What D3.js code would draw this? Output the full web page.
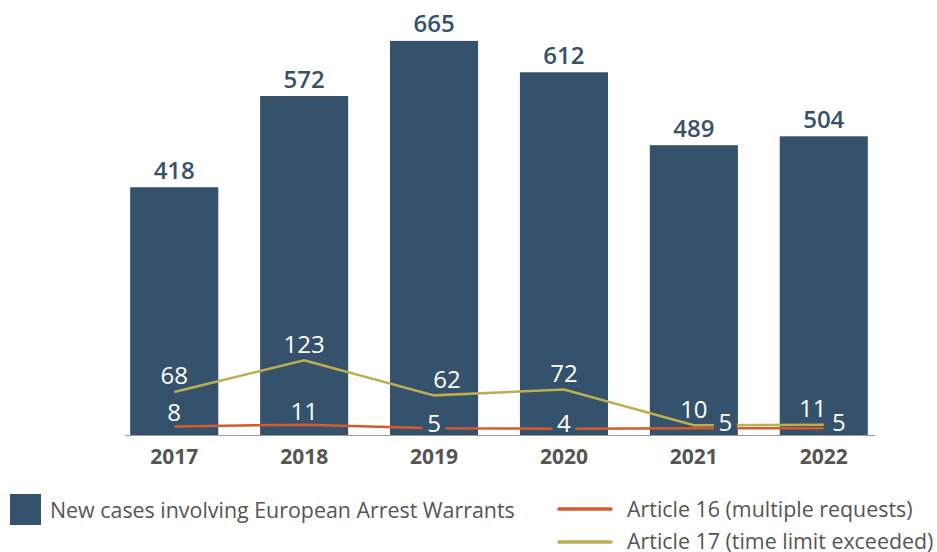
<!DOCTYPE html>
<html>
<head>
<meta charset="utf-8">
<script src="https://cdn.jsdelivr.net/npm/d3@7/dist/d3.min.js"></script>
<style>
  html, body { margin: 0; padding: 0; background: #ffffff; }
  svg { display: block; font-family: "Open Sans", "Noto Sans", sans-serif; }
</style>
</head>
<body>
<svg id="chart" width="937" height="552"></svg>
<script>
const years = ["2017", "2018", "2019", "2020", "2021", "2022"];
const newCases = [418, 572, 665, 612, 489, 504];
const article16 = [8, 11, 5, 4, 5, 5];
const article17 = [68, 123, 62, 72, 10, 11];
const seriesNames = [
  "New cases involving European Arrest Warrants",
  "Article 16 (multiple requests)",
  "Article 17 (time limit exceeded)"
];

const BAR = "#34526b", RED = "#d65a2b", GOLD = "#bfae50", TXT = "#555555";

const svg = d3.select("#chart");
const x = d3.scaleBand().domain(years).range([125, 873]).paddingInner(0.322).paddingOuter(0.04);
const y = d3.scaleLinear().domain([0, 734]).range([435, 0]);
const y2 = d3.scaleLinear().domain([0, 750]).range([431, 0]);
const cx = d => x(d) + x.bandwidth() / 2;

// bars
svg.append("g").selectAll("rect").data(years).join("rect")
  .attr("x", d => x(d)).attr("width", x.bandwidth())
  .attr("y", (d, i) => y(newCases[i]))
  .attr("height", (d, i) => y(0) - y(newCases[i]))
  .attr("fill", BAR);

// bar value labels
svg.append("g").selectAll("text").data(years).join("text")
  .attr("x", cx).attr("y", (d, i) => y(newCases[i]) - 8.5)
  .attr("text-anchor", "middle").attr("font-size", 24).attr("font-weight", 600)
  .attr("fill", BAR).text((d, i) => newCases[i]);

// axis line
svg.append("line").attr("x1", 125).attr("x2", 875).attr("y1", 435.5).attr("y2", 435.5)
  .attr("stroke", "#9a9a9a").attr("stroke-width", 1);

// year labels
svg.append("g").selectAll("text").data(years).join("text")
  .attr("x", cx).attr("y", 463.5).attr("text-anchor", "middle")
  .attr("font-size", 21).attr("font-weight", 700).attr("fill", TXT).text(d => d);

// lines
const line = vals => d3.line().x((d, i) => cx(years[i])).y(d => y2(d))(vals);
svg.append("path").attr("d", line(article17)).attr("fill", "none")
  .attr("stroke", GOLD).attr("stroke-width", 2.5);
svg.append("path").attr("d", line(article16)).attr("fill", "none")
  .attr("stroke", RED).attr("stroke-width", 2.5);

// Article 17 labels (above points)
const a17dx = [0, 0, 13, 0, 0, -11];
svg.append("g").selectAll("text").data(article17).join("text")
  .attr("x", (d, i) => cx(years[i]) + a17dx[i])
  .attr("y", d => y2(d) - 7.5)
  .attr("text-anchor", "middle").attr("font-size", 24).attr("fill", "#ffffff")
  .text(d => d);

// Article 16 labels
const a16 = article16.map((v, i) => {
  const px = cx(years[i]), py = y2(v);
  if (i < 2) return { v, x: px, y: py - 5, bg: false };
  if (i < 4) return { v, x: px, y: 431.7, bg: true };
  return { v, x: px + (i === 4 ? 31.5 : 15), y: 431.3, bg: true };
});
const g16 = svg.append("g");
g16.selectAll("rect").data(a16.filter(d => d.bg)).join("rect")
  .attr("x", d => d.x - 11.5).attr("width", 23)
  .attr("y", d => d.y - 16.5).attr("height", 17.5)
  .attr("fill", BAR);
g16.selectAll("text").data(a16).join("text")
  .attr("x", d => d.x).attr("y", d => d.y)
  .attr("text-anchor", "middle").attr("font-size", 24).attr("fill", "#ffffff")
  .text(d => d.v);

// legend
const lg = svg.append("g");
lg.append("rect").attr("x", 10).attr("y", 494).attr("width", 31).attr("height", 31).attr("fill", BAR);
lg.append("text").attr("x", 50).attr("y", 517.5).attr("font-size", 21.4).attr("fill", TXT).text(seriesNames[0]);
lg.append("line").attr("x1", 559).attr("x2", 611).attr("y1", 509).attr("y2", 509)
  .attr("stroke", RED).attr("stroke-width", 3.5).attr("stroke-linecap", "round");
lg.append("text").attr("x", 627).attr("y", 517.3).attr("font-size", 21.4).attr("fill", TXT).text(seriesNames[1]);
lg.append("line").attr("x1", 559).attr("x2", 611).attr("y1", 542).attr("y2", 542)
  .attr("stroke", GOLD).attr("stroke-width", 3.5).attr("stroke-linecap", "round");
lg.append("text").attr("x", 627).attr("y", 548.5).attr("font-size", 21.4).attr("fill", TXT).text(seriesNames[2]);
</script>
</body>
</html>
